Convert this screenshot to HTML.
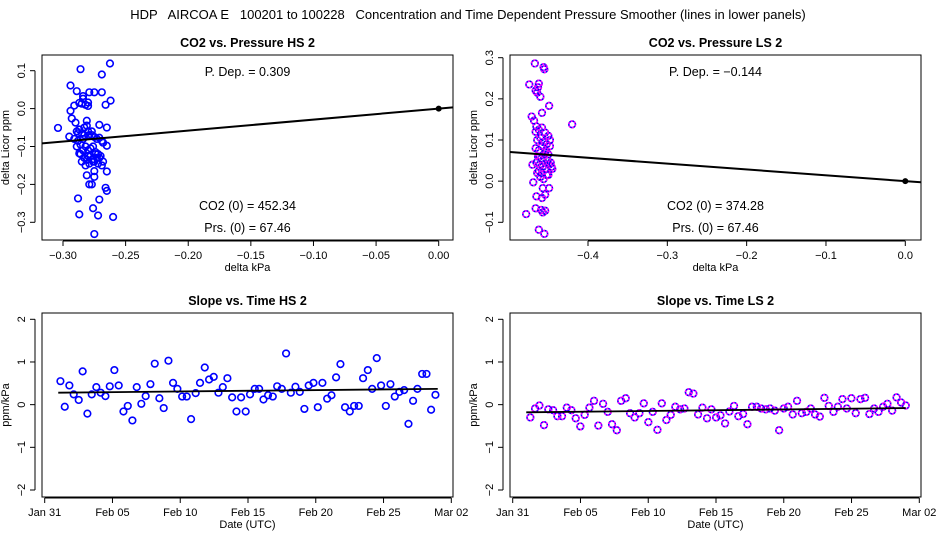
<!DOCTYPE html>
<html><head><meta charset="utf-8"><style>
html,body{margin:0;padding:0;background:#fff;}
svg{display:block;font-family:"Liberation Sans",sans-serif;}
</style></head><body>
<svg id="chart" width="936" height="540" viewBox="0 0 936 540">
<text x="468" y="19" text-anchor="middle" font-size="13" xml:space="preserve" style="white-space:pre">HDP   AIRCOA E   100201 to 100228   Concentration and Time Dependent Pressure Smoother (lines in lower panels)</text>
</svg>
<script>
// ---- HS2 scatter (delta kPa, delta ppm) ----
const hsX = [-0.2625,-0.286,-0.269,-0.294,-0.289,-0.279,-0.275,-0.269,-0.284,-0.284,-0.262,-0.287,-0.285,-0.280,-0.282,-0.280,-0.291,-0.266,-0.294,-0.293,-0.290,-0.281,-0.271,-0.265,-0.304,-0.295,
 -0.289,-0.287,-0.285,-0.283,-0.281,-0.279,-0.277,-0.275,-0.273,-0.271,-0.269,-0.288,-0.286,-0.284,-0.282,-0.280,-0.278,-0.276,-0.274,-0.272,-0.270,-0.268,-0.289,-0.286,-0.283,-0.280,-0.277,-0.274,-0.271,-0.268,-0.285,-0.282,-0.279,-0.276,-0.273,-0.287,-0.284,-0.281,-0.278,-0.275,-0.272,-0.269,-0.283,-0.280,-0.277,-0.291,-0.288,
 -0.265,-0.265,-0.275,-0.275,-0.279,-0.281,-0.277,-0.266,-0.265,-0.288,-0.271,-0.276,-0.287,-0.272,-0.260,-0.275];
const hsY = [0.119,0.104,0.090,0.061,0.046,0.043,0.043,0.043,0.033,0.026,0.021,0.015,0.013,0.016,0.010,0.007,0.008,0.010,-0.006,-0.026,-0.037,-0.032,-0.043,-0.050,-0.051,-0.074,
 -0.060,-0.055,-0.065,-0.050,-0.045,-0.070,-0.060,-0.075,-0.080,-0.077,-0.085,-0.085,-0.095,-0.080,-0.100,-0.110,-0.105,-0.100,-0.115,-0.120,-0.125,-0.090,-0.100,-0.120,-0.130,-0.125,-0.135,-0.120,-0.130,-0.140,-0.140,-0.150,-0.145,-0.140,-0.130,-0.118,-0.110,-0.135,-0.125,-0.140,-0.145,-0.150,-0.070,-0.060,-0.070,-0.080,-0.065,
 -0.098,-0.166,-0.165,-0.180,-0.200,-0.176,-0.200,-0.209,-0.217,-0.237,-0.240,-0.263,-0.279,-0.282,-0.286,-0.331];
const hsFit = [0.29];

// ---- LS2 scatter ----
const lsX = [-0.467,-0.456,-0.455,-0.474,-0.462,-0.463,-0.466,-0.464,-0.460,-0.449,-0.458,-0.471,-0.468,-0.465,-0.420,
 -0.466,-0.462,-0.458,-0.454,-0.450,-0.448,-0.464,-0.460,-0.456,-0.452,-0.448,-0.466,-0.462,-0.458,-0.454,-0.450,-0.463,-0.459,-0.455,-0.451,-0.447,-0.465,-0.461,-0.457,-0.453,-0.449,-0.462,-0.458,-0.454,-0.450,-0.446,-0.464,-0.460,-0.456,-0.452,-0.461,-0.457,-0.453,-0.445,-0.470,
 -0.469,-0.449,-0.457,-0.465,-0.458,-0.454,-0.466,-0.459,-0.454,-0.457,-0.478,-0.462,-0.455];
const lsY = [0.286,0.277,0.272,0.235,0.237,0.228,0.220,0.215,0.205,0.183,0.166,0.157,0.147,0.133,0.138,
 0.120,0.125,0.130,0.118,0.110,0.100,0.100,0.105,0.095,0.090,0.085,0.080,0.075,0.085,0.070,0.065,0.060,0.055,0.065,0.050,0.045,0.045,0.040,0.035,0.030,0.040,0.025,0.020,0.030,0.015,0.035,0.020,0.010,0.005,0.015,0.060,0.050,0.075,0.030,0.040,
 -0.003,-0.017,-0.017,-0.037,-0.041,-0.033,-0.066,-0.070,-0.072,-0.076,-0.080,-0.118,-0.128];
const lsFit = [-0.142];

// ---- Slope vs time (day offset from Jan 31) ----
const hsDays = [1.16,1.48,1.82,2.14,2.51,2.80,3.15,3.47,3.81,4.13,4.48,4.80,5.14,5.46,5.81,6.13,6.47,6.79,7.13,7.45,7.80,8.12,8.46,8.78,9.13,9.47,9.79,10.14,10.48,10.80,11.14,11.46,11.81,12.13,12.47,12.82,13.14,13.48,13.83,14.15,14.49,14.83,15.15,15.50,15.82,16.14,16.48,16.83,17.15,17.49,17.81,18.16,18.50,18.82,19.16,19.48,19.83,20.15,20.49,20.84,21.16,21.50,21.82,22.16,22.51,22.83,23.17,23.49,23.84,24.16,24.50,24.82,25.17,25.51,25.83,26.17,26.52,26.84,27.18,27.50,27.85,28.17,28.51,28.83];
const hsSlope = [0.55,-0.05,0.45,0.24,0.11,0.78,-0.21,0.24,0.41,0.28,0.2,0.43,0.81,0.45,-0.16,-0.03,-0.37,0.41,0.02,0.2,0.48,0.96,0.15,-0.08,1.03,0.51,0.37,0.19,0.19,-0.34,0.27,0.51,0.87,0.59,0.65,0.28,0.41,0.62,0.17,-0.16,0.17,-0.16,0.24,0.37,0.37,0.12,0.22,0.19,0.43,0.37,1.2,0.28,0.42,0.3,-0.1,0.45,0.51,-0.06,0.51,0.14,0.22,0.64,0.95,-0.06,-0.16,-0.03,-0.03,0.62,0.81,0.37,1.09,0.45,-0.03,0.48,0.19,0.3,0.34,-0.45,0.09,0.37,0.72,0.72,-0.12,0.23];
const hsTrendDays = [1.0,29.0];
const hsTrend = [0.28,0.37];

const lsDays = [1.30,1.65,1.97,2.31,2.63,2.98,3.30,3.64,3.99,4.33,4.65,4.99,5.31,5.66,6.00,6.32,6.67,7.01,7.33,7.68,8.00,8.34,8.66,9.00,9.35,9.67,10.01,10.33,10.68,11.00,11.34,11.66,12.00,12.35,12.67,12.99,13.33,13.68,14.00,14.34,14.66,15.01,15.33,15.67,15.99,16.33,16.65,17.00,17.32,17.66,18.01,18.33,18.67,18.99,19.34,19.66,20.00,20.32,20.66,20.98,21.33,21.67,21.99,22.31,22.66,23.00,23.32,23.67,23.99,24.33,24.65,24.99,25.31,25.66,26.00,26.32,26.67,26.99,27.33,27.65,28.00,28.32,28.66,29.00];
const lsSlope = [-0.30,-0.09,-0.02,-0.48,-0.11,-0.13,-0.27,-0.27,-0.07,-0.13,-0.32,-0.51,-0.24,-0.07,0.09,-0.49,0.02,-0.17,-0.46,-0.60,0.09,0.15,-0.2,-0.30,-0.2,0.03,-0.41,-0.17,-0.59,0.03,-0.36,-0.24,-0.05,-0.11,-0.09,0.29,0.26,-0.23,-0.07,-0.32,-0.11,-0.30,-0.25,-0.44,-0.16,-0.03,-0.27,-0.22,-0.46,-0.05,-0.05,-0.09,-0.11,-0.09,-0.14,-0.60,-0.09,-0.05,-0.23,0.09,-0.2,-0.17,-0.09,-0.23,-0.28,0.16,-0.03,-0.17,-0.05,0.13,-0.09,0.15,-0.2,0.13,0.16,-0.22,-0.09,-0.17,-0.05,0.02,-0.14,0.17,0.05,-0.02];
const lsTrendDays = [1.0,29.0];
const lsTrend = [-0.18,-0.08];

const yTicksHS = [0.1,0.0,-0.1,-0.2,-0.3];
const yTickLabHS = ["0.1","0.0","\u22120.1","\u22120.2","\u22120.3"];
const xTicksHS = [-0.30,-0.25,-0.20,-0.15,-0.10,-0.05,0.00];
const xTickLabHS = ["\u22120.30","\u22120.25","\u22120.20","\u22120.15","\u22120.10","\u22120.05","0.00"];
const yTicksLS = [0.3,0.2,0.1,0.0,-0.1];
const yTickLabLS = ["0.3","0.2","0.1","0.0","\u22120.1"];
const xTicksLS = [-0.4,-0.3,-0.2,-0.1,0.0];
const xTickLabLS = ["\u22120.4","\u22120.3","\u22120.2","\u22120.1","0.0"];
const yTicksT = [2,1,0,-1,-2];
const yTickLabT = ["2","1","0","\u22121","\u22122"];
const xTicksT = [0,5,10,15,20,25,30];
const xTickLabT = ["Jan 31","Feb 05","Feb 10","Feb 15","Feb 20","Feb 25","Mar 02"];

const NS = "http://www.w3.org/2000/svg";
const svg = document.getElementById("chart");
function mk(tag, attrs, parent, txt){
  const e = document.createElementNS(NS, tag);
  for (const k in attrs) e.setAttribute(k, attrs[k]);
  if (txt !== undefined) e.textContent = txt;
  (parent || svg).appendChild(e);
  return e;
}

function panel(c){
  const g = mk("g", {});
  
  
  const sx = v => c.px0 + (v - c.xa) / (c.xb - c.xa) * (c.px1 - c.px0);
  const sy = v => c.py0 + (v - c.ya) / (c.yb - c.ya) * (c.py1 - c.py0);
  const box = mk("rect", {x:c.L, y:c.T, width:c.R-c.L, height:c.B-c.T, fill:"none", stroke:"#000", "stroke-width":1}, g);
  
  
  const tt = mk("text", {x:(c.L+c.R)/2, y:c.T-8, "text-anchor":"middle", "font-size":12.5, "font-weight":"bold"}, g, c.title);
  
  
  const ya = mk("line", {x1:c.L-7, x2:c.L-7, y1:sy(c.yt[0]), y2:sy(c.yt[c.yt.length-1]), stroke:"#000"}, g);
  
  
  c.yt.forEach((v,i)=>{
    const y = sy(v);
    mk("line", {x1:c.L-12, x2:c.L-7, y1:y, y2:y, stroke:"#000"}, g);
    const t = mk("text", {x:c.L-17, y:y, "text-anchor":"middle", "font-size":11, transform:`rotate(-90 ${c.L-17} ${y})`}, g, c.ytl[i]);
    
    
  });
  const xa = mk("line", {x1:sx(c.xt[0]), x2:sx(c.xt[c.xt.length-1]), y1:c.B+1, y2:c.B+1, stroke:"#000"}, g);
  
  
  c.xt.forEach((v,i)=>{
    const x = sx(v);
    mk("line", {x1:x, x2:x, y1:c.B+1, y2:c.B+6, stroke:"#000"}, g);
    const t = mk("text", {x:x, y:c.B+19, "text-anchor":"middle", "font-size":11}, g, c.xtl[i]);
    
    
  });
  const xl = mk("text", {x:(c.L+c.R)/2, y:c.B+31, "text-anchor":"middle", "font-size":11}, g, c.xlab);
  
  
  const yx = c.L-33, ymid = (c.T+c.B)/2;
  const yl = mk("text", {x:yx, y:ymid, "text-anchor":"middle", "font-size":11, transform:`rotate(-90 ${yx} ${ymid})`}, g, c.ylab);
  
  
  return {g, sx, sy};
}

function pts(p, xs, ys, magenta){
  xs.forEach((x,i)=>{
    const cx = p.sx(x), cy = p.sy(ys[i]);
    const e = mk("circle", {cx, cy, r:3.3, fill:"none", stroke:"#0000ff", "stroke-width":1.6}, p.g);
    
    
    if (magenta) mk("circle", {cx, cy, r:3.3, fill:"none", stroke:"#ff00ff", "stroke-width":1.6, "stroke-dasharray":"2 1.5"}, p.g);
  });
}

function scatterPanel(o){
  const p = panel(o);
  const clip = o.name + "-clip";
  const cp = mk("clipPath", {id:clip}, svg);
  mk("rect", {x:o.L, y:o.T, width:o.R-o.L, height:o.B-o.T}, cp);
  pts(p, o.xs, o.ys, o.magenta);
  const xl = o.xa2, xr = o.xb2;
  const ln = mk("line", {x1:p.sx(xl), y1:p.sy(o.fit*xl), x2:p.sx(xr), y2:p.sy(o.fit*xr), stroke:"#000", "stroke-width":2, "clip-path":`url(#${clip})`}, p.g);
  
  
  const z = mk("circle", {cx:p.sx(0), cy:p.sy(0), r:3, fill:"#000"}, p.g);
  
  
  const cx = o.L + (o.R-o.L)*0.5;
  const a = mk("text", {x:cx, y:o.T+21, "text-anchor":"middle", "font-size":12.5}, p.g, o.pdep);
  
  
  const b = mk("text", {x:cx, y:o.T+155, "text-anchor":"middle", "font-size":12.5}, p.g, o.co2);
  
  
  const d = mk("text", {x:cx, y:o.T+177, "text-anchor":"middle", "font-size":12.5}, p.g, "Prs. (0) =  67.46");
  
  
}

scatterPanel({name:"co2-vs-pressure-hs2", title:"CO2 vs. Pressure HS 2", L:42, R:453, T:55, B:240,
  xa:-0.30, xb:0.0, px0:63, px1:438.7, ya:0.1, yb:-0.3, py0:70.7, py1:222.3,
  yt:yTicksHS, ytl:yTickLabHS, xt:xTicksHS, xtl:xTickLabHS, xlab:"delta kPa", ylab:"delta Licor ppm",
  xs:hsX, ys:hsY, fit:hsFit[0], xa2:-0.32, xb2:0.02, pdep:"P. Dep. =  0.309", co2:"CO2 (0) =  452.34"});
scatterPanel({name:"co2-vs-pressure-ls2", title:"CO2 vs. Pressure LS 2", L:510, R:921, T:55, B:240,
  xa:-0.4, xb:0.0, px0:588, px1:905.3, ya:0.3, yb:-0.1, py0:57.7, py1:222.3,
  yt:yTicksLS, ytl:yTickLabLS, xt:xTicksLS, xtl:xTickLabLS, xlab:"delta kPa", ylab:"delta Licor ppm",
  xs:lsX, ys:lsY, fit:lsFit[0], xa2:-0.5, xb2:0.03, pdep:"P. Dep. =  \u22120.144", co2:"CO2 (0) =  374.28", magenta:true});

function timePanel(o){
  const p = panel(o);
  pts(p, o.xs, o.ys, o.magenta);
  const ln = mk("line", {x1:p.sx(o.td[0]), y1:p.sy(o.tv[0]), x2:p.sx(o.td[1]), y2:p.sy(o.tv[1]), stroke:"#000", "stroke-width":1.8}, p.g);
  
  
}
const tBase = {T:313, B:497, xa:0, xb:30, ya:2, yb:-2, py0:319.3, py1:490,
  yt:yTicksT, ytl:yTickLabT, xt:xTicksT, xtl:xTickLabT, xlab:"Date (UTC)", ylab:"ppm/kPa"};
timePanel(Object.assign({}, tBase, {name:"slope-vs-time-hs2", title:"Slope vs. Time HS 2", L:42, R:453, px0:44.7, px1:451.3,
  xs:hsDays, ys:hsSlope, td:hsTrendDays, tv:hsTrend}));
timePanel(Object.assign({}, tBase, {name:"slope-vs-time-ls2", title:"Slope vs. Time LS 2", L:510, R:921, px0:512.7, px1:919.3,
  xs:lsDays, ys:lsSlope, td:lsTrendDays, tv:lsTrend, magenta:true}));
</script>
</body></html>
